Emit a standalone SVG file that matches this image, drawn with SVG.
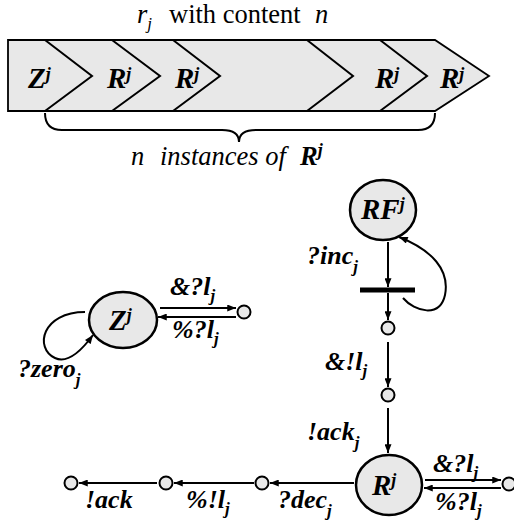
<svg xmlns="http://www.w3.org/2000/svg" width="514" height="526" viewBox="0 0 514 526">
<style>
.t{fill:#000;font-family:'Liberation Serif','Times New Roman',serif}
.lbl{font-family:'Liberation Serif','Times New Roman',serif;font-weight:bold;font-style:italic;font-size:26px;fill:#000}
.sub{font-size:17px}
.node{fill:#e8e8e8;stroke:#000;stroke-width:2.5}
.pt{fill:#e8e8e8;stroke:#000;stroke-width:2}
.ln{fill:none;stroke:#000;stroke-width:2}
.big{font-family:'Liberation Serif','Times New Roman',serif;font-weight:bold;font-style:italic;font-size:29px;fill:#000}
</style>
<defs>
<marker id="ah" viewBox="0 0 10 8" refX="10" refY="4" markerWidth="5" markerHeight="3.5" orient="auto" markerUnits="strokeWidth">
<path d="M0,0 L10,4 L0,8 Z" fill="#000"/>
</marker>
</defs>

<g id="title">
<text class="t" x="137" y="23" font-size="26.5"><tspan font-style="italic">r</tspan><tspan font-style="italic" font-size="17" dy="6">j</tspan><tspan x="169" dy="-6">with content</tspan><tspan x="315" font-style="italic">n</tspan></text>
</g>

<g id="band">
<path d="M8,40 L435,40 L489,76 L435,111 L8,111 Z" fill="#e8e8e8" stroke="#000" stroke-width="1.8"/>
<path class="ln" stroke-width="1.8" d="M45,40 L92,76 L45,111 M112,40 L160,76 L112,111 M173,40 L220,76 L173,111 M307,40 L353,76 L307,111 M380,40 L427,76 L380,111"/>
<text class="big" x="28" y="88">Z<tspan font-size="18" dy="-8">j</tspan></text>
<text class="big" x="107" y="88">R<tspan font-size="18" dy="-8">j</tspan></text>
<text class="big" x="175" y="88">R<tspan font-size="18" dy="-8">j</tspan></text>
<text class="big" x="375" y="88">R<tspan font-size="18" dy="-8">j</tspan></text>
<text class="big" x="440" y="88">R<tspan font-size="18" dy="-8">j</tspan></text>
</g>

<g id="brace">
<path class="ln" d="M45,113 Q45,130 62,130 L222,130 Q239,130 239,142 Q239,130 256,130 L418,130 Q435,130 435,113"/>
<text class="t" x="131" y="165" font-size="26.5" font-style="italic">n<tspan x="160">instances of </tspan><tspan x="300" font-weight="bold">R</tspan><tspan font-weight="bold" font-size="18" dy="-9">j</tspan></text>
</g>

<g id="node-RF">
<ellipse class="node" cx="383" cy="210" rx="33" ry="30"/>
<text class="big" x="361" y="219">RF<tspan font-size="18" dy="-9">j</tspan></text>
</g>
<g id="bar">
<rect x="360" y="287.5" width="55" height="5" fill="#000"/>
</g>
<g id="node-Z">
<ellipse class="node" cx="123" cy="320" rx="34" ry="28"/>
<text class="big" x="109" y="330">Z<tspan font-size="18" dy="-9">j</tspan></text>
</g>
<g id="node-R">
<ellipse class="node" cx="389" cy="485" rx="33" ry="30"/>
<text class="big" x="372" y="495">R<tspan font-size="18" dy="-9">j</tspan></text>
</g>
<g id="pt-Z"><circle class="pt" cx="244" cy="312" r="6.5"/></g>
<g id="pt-1"><circle class="pt" cx="388" cy="328" r="6.5"/></g>
<g id="pt-2"><circle class="pt" cx="388" cy="395" r="6.5"/></g>
<g id="pt-R"><circle class="pt" cx="509" cy="484" r="6.5"/></g>
<g id="pt-3"><circle class="pt" cx="262" cy="483" r="6.5"/></g>
<g id="pt-4"><circle class="pt" cx="166" cy="483" r="6.5"/></g>
<g id="pt-5"><circle class="pt" cx="71" cy="483" r="6.5"/></g>

<g id="connectors">
<path class="ln" marker-end="url(#ah)" d="M160,308 L236,308"/>
<path class="ln" marker-end="url(#ah)" d="M236,317 L158,317"/>
<path class="ln" marker-end="url(#ah)" d="M85,312 C42,312 34,348 55,358 C68,364 82,350 93,335"/>
<path class="ln" marker-end="url(#ah)" d="M388,242 L388,287"/>
<path class="ln" marker-end="url(#ah)" d="M403,298 C415,312 440,318 445,295 C450,270 432,250 399,237"/>
<path class="ln" marker-end="url(#ah)" d="M388,293 L388,320"/>
<path class="ln" marker-end="url(#ah)" d="M388,342 L388,387"/>
<path class="ln" marker-end="url(#ah)" d="M388,408 L388,453"/>
<path class="ln" marker-end="url(#ah)" d="M425,480 L501,480"/>
<path class="ln" marker-end="url(#ah)" d="M501,488 L424,488"/>
<path class="ln" marker-end="url(#ah)" d="M354,483 L270,483"/>
<path class="ln" marker-end="url(#ah)" d="M254,483 L174,483"/>
<path class="ln" marker-end="url(#ah)" d="M157,483 L79,483"/>
</g>

<g id="labels">
<text class="lbl" x="170" y="295">&amp;?l<tspan class="sub" dy="6">j</tspan></text>
<text class="lbl" x="172" y="338">%?l<tspan class="sub" dy="6">j</tspan></text>
<text class="lbl" x="18" y="377">?zero<tspan class="sub" dy="8">j</tspan></text>
<text class="lbl" x="307" y="264">?inc<tspan class="sub" dy="8">j</tspan></text>
<text class="lbl" x="325" y="370">&amp;!l<tspan class="sub" dy="6">j</tspan></text>
<text class="lbl" x="307" y="440">!ack<tspan class="sub" dy="8">j</tspan></text>
<text class="lbl" x="433" y="472">&amp;?l<tspan class="sub" dy="6">j</tspan></text>
<text class="lbl" x="435" y="510">%?l<tspan class="sub" dy="6">j</tspan></text>
<text class="lbl" x="85" y="508">!ack</text>
<text class="lbl" x="186" y="508">%!l<tspan class="sub" dy="6">j</tspan></text>
<text class="lbl" x="278" y="508">?dec<tspan class="sub" dy="8">j</tspan></text>
</g>
</svg>
